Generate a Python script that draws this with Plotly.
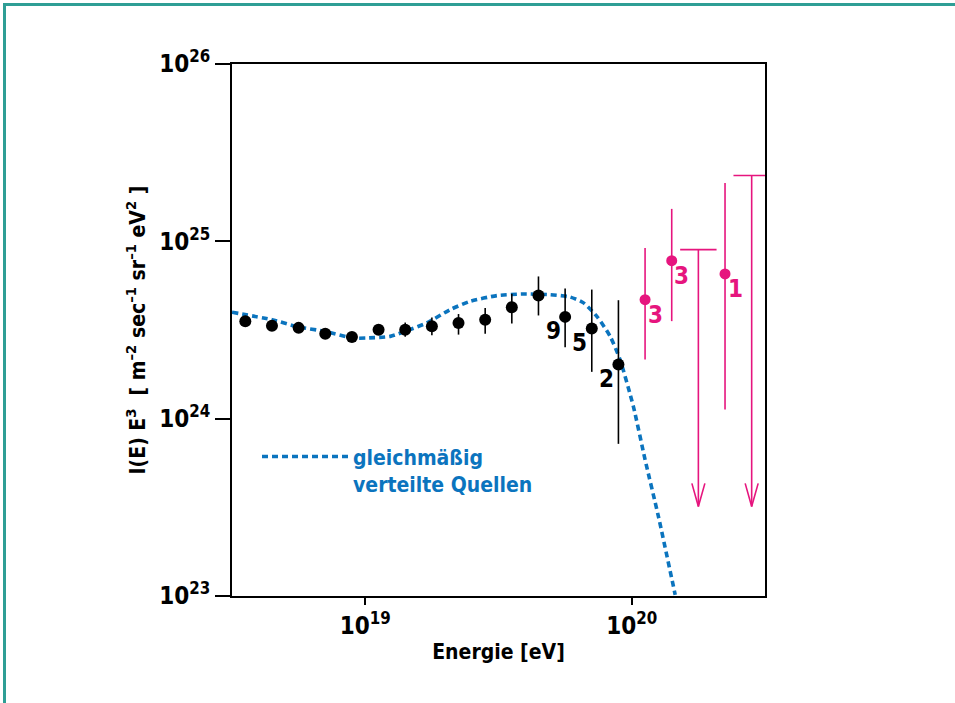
import plotly.graph_objects as go

# ---------------- data (log10 values) ----------------
black_logE = [18.55, 18.65, 18.75, 18.85, 18.95, 19.05, 19.15, 19.25, 19.35, 19.45,
              19.55, 19.65, 19.75, 19.85, 19.95]
black_logI = [24.549, 24.524, 24.512, 24.479, 24.461, 24.502, 24.502, 24.521, 24.540,
              24.558, 24.628, 24.695, 24.574, 24.508, 24.305]
black_err_up = [0, 0, 0, 0, 0, 0, 0.04, 0.05, 0.05, 0.066, 0.077, 0.107, 0.160, 0.220, 0.363]
black_err_dn = [0, 0, 0, 0, 0, 0, 0.04, 0.05, 0.066, 0.079, 0.091, 0.113, 0.171, 0.244, 0.447]
black_counts = ["9", "5", "2"]          # events in the last three bins
black_count_idx = [12, 13, 14]

pink_logE = [20.05, 20.15, 20.35]
pink_logI = [24.671, 24.891, 24.816]
pink_err_up = [0.292, 0.292, 0.513]
pink_err_dn = [0.338, 0.341, 0.765]
pink_counts = ["3", "3", "1"]

limit_logE = [20.25, 20.45]
limit_logI = [24.953, 25.371]
limit_floor = 23.505

curve_logE = [18.50, 18.65, 18.75, 18.85, 18.95, 19.006, 19.094, 19.156, 19.231, 19.319,
              19.394, 19.494, 19.594, 19.694, 19.769, 19.819, 19.869, 19.919, 19.956,
              20.006, 20.050, 20.100, 20.163]
curve_logI = [24.600, 24.558, 24.517, 24.492, 24.455, 24.455, 24.464, 24.496, 24.540, 24.615,
              24.662, 24.694, 24.703, 24.699, 24.686, 24.653, 24.577, 24.464, 24.333,
              24.069, 23.769, 23.449, 23.007]

x_tickvals = [19, 20]
y_tickvals = [23, 24, 25, 26]

# ---------------- styles ----------------
FONT = "Liberation Sans Narrow, DejaVu Sans Condensed, Arial Narrow, sans-serif"
BLUE = "#0B74BE"
PINK = "#E6157E"
TEAL = "#2E9E95"

def p10(v):
    return [10.0 ** a for a in v]

fig = go.Figure()

# model curve
fig.add_trace(go.Scatter(
    x=p10(curve_logE), y=p10(curve_logI), mode="lines",
    line=dict(color=BLUE, width=3.6, dash="6px,4px", shape="spline", smoothing=0.6),
    name="gleichmäßig<br>verteilte Quellen", showlegend=True, hoverinfo="skip"))

# black data points
fig.add_trace(go.Scatter(
    x=p10(black_logE), y=p10(black_logI), mode="markers",
    marker=dict(color="black", size=12),
    error_y=dict(type="data", symmetric=False,
                 array=[10.0 ** (a + u) - 10.0 ** a for a, u in zip(black_logI, black_err_up)],
                 arrayminus=[10.0 ** a - 10.0 ** (a - d) for a, d in zip(black_logI, black_err_dn)],
                 color="black", thickness=1.6, width=0),
    showlegend=False))

# pink data points
fig.add_trace(go.Scatter(
    x=p10(pink_logE), y=p10(pink_logI), mode="markers",
    marker=dict(color=PINK, size=11),
    error_y=dict(type="data", symmetric=False,
                 array=[10.0 ** (a + u) - 10.0 ** a for a, u in zip(pink_logI, pink_err_up)],
                 arrayminus=[10.0 ** a - 10.0 ** (a - d) for a, d in zip(pink_logI, pink_err_dn)],
                 color=PINK, thickness=1.6, width=0),
    showlegend=False))

# upper limits: cap + shaft
fig.add_trace(go.Scatter(
    x=p10(limit_logE), y=p10(limit_logI), mode="markers",
    marker=dict(symbol="line-ew", size=26, color=PINK, line=dict(color=PINK, width=1.6)),
    error_y=dict(type="data", symmetric=False,
                 array=[0.0 for _ in limit_logI],
                 arrayminus=[10.0 ** a - 10.0 ** limit_floor for a in limit_logI],
                 color=PINK, thickness=1.6, width=0),
    showlegend=False))

# open arrow heads at the floor
ah_x, ah_y = [], []
for lx in limit_logE:
    ah_x += [10.0 ** (lx - 0.0244), 10.0 ** lx, 10.0 ** (lx + 0.0244), None]
    ah_y += [10.0 ** (limit_floor + 0.13), 10.0 ** limit_floor, 10.0 ** (limit_floor + 0.13), None]
fig.add_trace(go.Scatter(x=ah_x, y=ah_y, mode="lines",
                         line=dict(color=PINK, width=1.6), showlegend=False,
                         hoverinfo="skip"))

# count labels
annotations = []
for lab, i in zip(black_counts, black_count_idx):
    annotations.append(dict(x=black_logE[i], y=black_logI[i], xref="x", yref="y",
                            text=lab, showarrow=False, xshift=-12, yshift=-14,
                            font=dict(family=FONT, size=24, color="black", weight="bold")))
for lab, lx, ly in zip(pink_counts, pink_logE, pink_logI):
    annotations.append(dict(x=lx, y=ly, xref="x", yref="y",
                            text=lab, showarrow=False, xshift=10, yshift=-15,
                            font=dict(family=FONT, size=24, color=PINK, weight="bold")))

fig.update_layout(
    width=955, height=703,
    margin=dict(l=232, r=190, t=64, b=107),
    paper_bgcolor="white", plot_bgcolor="white",
    font=dict(family=FONT, color="black", weight="bold"),
    annotations=annotations,
    legend=dict(x=(257 - 232) / 533, y=0.30, xanchor="left", yanchor="top",
                bgcolor="rgba(0,0,0,0)", itemwidth=86, valign="top",
                font=dict(family=FONT, size=21, color=BLUE, weight="bold")),
    shapes=[dict(type="rect", xref="paper", yref="paper",
                 x0=(4.5 - 232) / 533, x1=(980 - 232) / 533,
                 y0=(596 - 730) / 532, y1=(596 - 4.5) / 532,
                 line=dict(color=TEAL, width=3), layer="above")],
)

fig.update_xaxes(
    type="log", range=[18.5, 20.5],
    tickvals=[10.0 ** v for v in x_tickvals],
    ticktext=[f"10<sup>{v}</sup>" for v in x_tickvals],
    tickfont=dict(family=FONT, size=24, weight="bold"),
    ticks="outside", ticklen=7, tickwidth=2, tickcolor="black",
    showline=True, linecolor="black", linewidth=1.8, mirror=True,
    showgrid=False, zeroline=False,
    title=dict(text="Energie [eV]", font=dict(family=FONT, size=21, weight="bold"), standoff=6))

fig.update_yaxes(
    type="log", range=[23, 26],
    tickvals=[10.0 ** v for v in y_tickvals],
    ticktext=[f"10<sup>{v}</sup>" for v in y_tickvals],
    tickfont=dict(family=FONT, size=24, weight="bold"),
    ticks="outside", ticklen=15, tickwidth=1.6, tickcolor="black",
    showline=True, linecolor="black", linewidth=1.8, mirror=True,
    showgrid=False, zeroline=False,
    title=dict(text="I(E) E<sup>3</sup>  [ m<sup>–2</sup> sec<sup>–1</sup> sr<sup>–1</sup> eV<sup>2</sup> ]",
               font=dict(family=FONT, size=21, weight="bold"), standoff=8))

fig.write_html("out.html")
